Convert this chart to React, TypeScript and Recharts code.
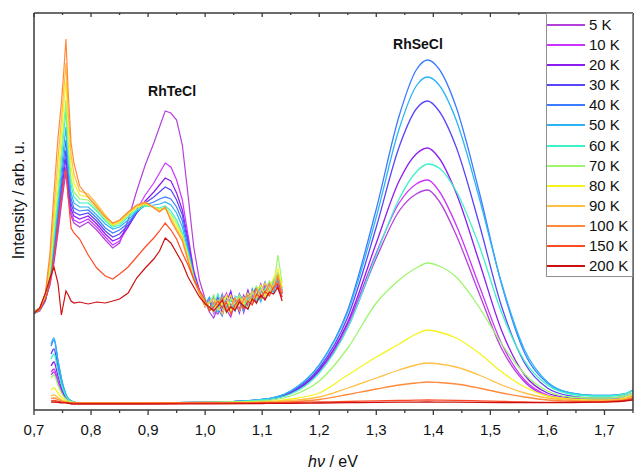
import { LineChart, Line, XAxis, YAxis, Legend, ReferenceDot, Label } from 'recharts';

const CHART_W = 635;
const CHART_H = 471;
const MARGIN_TOP = 13;
const X_AXIS_H = 61;
const Y_AXIS_W = 34;
const PLOT_TOP = MARGIN_TOP;
const PLOT_BOTTOM = CHART_H - X_AXIS_H;
const AXIS_COLOR = '#3a3a3a';
const FONT = 'Arial, "Liberation Sans", sans-serif';

const temperatures = ['5 K', '10 K', '20 K', '30 K', '40 K', '50 K', '60 K', '70 K', '80 K', '90 K', '100 K', '150 K', '200 K'];
const tempColors = ['#b440dc', '#cc33ff', '#8c1cf0', '#5a46fa', '#3c7cff', '#2db4f5', '#3df2c8', '#9ef56e', '#f4f41c', '#ffbf40', '#ff8a3c', '#ff4b24', '#cc1010'];

const energyTicks = [0.7, 0.75, 0.8, 0.85, 0.9, 0.95, 1.0, 1.05, 1.1, 1.15, 1.2, 1.25, 1.3, 1.35, 1.4, 1.45, 1.5, 1.55, 1.6, 1.65, 1.7, 1.75];

// photon energy grid (eV) of the RhTeCl spectra (offset, upper part)
const teEnergy = [
  0.700, 0.710, 0.720, 0.728, 0.735, 0.742, 0.748, 0.752, 0.756, 0.760,
  0.765, 0.770, 0.780, 0.795, 0.810, 0.825, 0.838, 0.850, 0.865, 0.880,
  0.895, 0.910, 0.920, 0.930, 0.940, 0.950, 0.960, 0.970, 0.980, 0.990,
  1.0000, 1.0075, 1.0150, 1.0225, 1.0300, 1.0375, 1.0450, 1.0525, 1.0600, 1.0675,
  1.0750, 1.0825, 1.0900, 1.0975, 1.1050, 1.1125, 1.1200, 1.1275, 1.1350,
];

const te5 = [
  9.2, 9.4, 10.4, 11.8, 14.0, 17.0, 19.8, 21.5, 23.0, 20.6,
  18.7, 18.0, 17.6, 18.1, 17.3, 16.3, 15.5, 16.0, 18.3, 21.2,
  23.8, 26.0, 27.6, 29.2, 29.0, 28.3, 25.8, 20.8, 15.6, 12.3,
  10.4, 9.1, 8.5, 9.6, 10.9, 9.3, 8.6, 10.1, 9.4, 10.8,
  9.7, 11.2, 10.0, 11.7, 10.6, 11.3, 12.0, 11.4, 10.6,
];
const te10 = [
  9.1, 9.4, 10.3, 12.0, 14.3, 17.4, 20.3, 22.1, 23.6, 21.0,
  19.0, 18.3, 18.0, 18.4, 17.6, 16.6, 15.8, 16.2, 17.6, 19.3,
  20.8, 22.0, 23.0, 24.0, 23.6, 22.3, 20.3, 16.8, 13.3, 11.3,
  9.8, 10.5, 9.2, 8.9, 10.2, 11.0, 9.5, 9.9, 10.9, 9.0,
  10.4, 10.6, 11.5, 10.3, 11.8, 10.9, 11.6, 12.6, 11.0,
];
const te20 = [
  9.0, 9.3, 10.4, 12.2, 14.6, 17.9, 20.9, 22.8, 24.5, 21.6,
  19.4, 18.7, 18.4, 18.7, 17.9, 16.9, 16.2, 16.5, 17.6, 19.0,
  20.2, 21.1, 21.8, 22.5, 22.2, 21.0, 19.3, 16.3, 13.0, 11.2,
  10.3, 9.4, 9.9, 10.6, 9.0, 10.1, 11.2, 9.3, 10.2, 9.8,
  11.3, 9.9, 10.8, 11.9, 10.4, 11.5, 12.3, 11.7, 11.5,
];
const te30 = [
  9.0, 9.2, 10.2, 12.3, 15.0, 18.5, 21.6, 23.5, 25.3, 22.3,
  19.9, 19.1, 18.8, 19.0, 18.2, 17.2, 16.6, 16.9, 17.8, 19.0,
  20.0, 20.6, 21.1, 21.6, 21.3, 20.3, 18.8, 16.0, 12.9, 11.1,
  9.6, 10.2, 9.0, 10.4, 9.7, 9.1, 10.6, 10.3, 9.0, 10.7,
  10.0, 10.9, 11.6, 10.5, 11.1, 12.0, 11.3, 12.4, 10.9,
];
const te40 = [
  8.9, 9.3, 10.5, 12.4, 15.4, 19.0, 22.3, 24.4, 26.3, 23.0,
  20.4, 19.5, 19.2, 19.3, 18.5, 17.5, 17.0, 17.3, 18.0, 19.1,
  19.8, 20.1, 20.4, 20.6, 20.4, 19.6, 18.2, 15.6, 12.8, 11.0,
  10.1, 9.2, 10.7, 9.4, 8.7, 10.5, 9.8, 9.2, 10.9, 10.2,
  9.4, 11.4, 10.2, 11.0, 12.1, 10.8, 11.7, 12.8, 11.2,
];
const te50 = [
  9.1, 9.4, 10.6, 12.6, 15.9, 19.7, 23.2, 25.5, 27.6, 23.8,
  21.0, 20.0, 19.6, 19.6, 18.8, 17.9, 17.4, 17.6, 18.3, 19.2,
  19.7, 19.8, 19.9, 20.1, 19.8, 19.0, 17.6, 15.3, 12.7, 11.0,
  9.9, 10.6, 9.5, 9.1, 10.8, 9.6, 10.3, 9.7, 10.1, 9.2,
  10.9, 10.4, 11.2, 10.1, 11.5, 11.9, 11.0, 12.3, 11.3,
];
const te60 = [
  9.2, 9.5, 10.7, 12.9, 16.6, 20.5, 24.3, 26.9, 29.3, 25.0,
  21.8, 20.6, 20.0, 20.0, 19.2, 18.2, 17.6, 17.8, 18.6, 19.3,
  19.7, 19.6, 19.5, 19.7, 19.2, 18.3, 17.0, 15.0, 12.6, 11.0,
  10.5, 9.3, 9.8, 10.9, 9.4, 9.9, 9.1, 10.7, 10.4, 9.6,
  10.5, 11.0, 10.3, 11.6, 10.9, 11.2, 12.2, 13.0, 11.5,
];
const te70 = [
  9.1, 9.4, 10.6, 13.2, 17.2, 21.3, 25.2, 27.8, 30.3, 25.8,
  22.4, 21.1, 20.4, 20.3, 19.4, 18.4, 17.7, 18.0, 18.8, 19.5,
  19.8, 19.6, 19.4, 19.5, 18.9, 18.0, 16.8, 14.8, 12.5, 11.0,
  9.7, 10.1, 10.8, 9.3, 10.0, 9.0, 10.4, 9.9, 10.8, 10.1,
  9.5, 11.1, 11.7, 10.4, 11.3, 12.2, 11.5, 14.8, 12.0,
];
const te80 = [
  9.0, 9.3, 10.8, 13.6, 18.2, 22.6, 26.8, 29.6, 32.2, 27.4,
  23.6, 22.0, 20.8, 20.6, 19.7, 18.6, 17.8, 18.1, 18.9, 19.6,
  19.9, 19.6, 19.3, 19.4, 18.6, 17.7, 16.6, 14.6, 12.4, 11.0,
  10.2, 9.6, 9.1, 10.3, 9.9, 10.8, 9.2, 9.6, 10.5, 9.9,
  11.0, 10.0, 11.1, 11.8, 10.6, 11.4, 12.5, 13.4, 11.6,
];
const te90 = [
  9.1, 9.5, 10.9, 14.2, 19.4, 24.4, 28.3, 31.2, 34.0, 29.0,
  24.8, 22.9, 21.2, 20.9, 19.9, 18.8, 17.9, 18.2, 19.0, 19.7,
  20.0, 19.6, 19.2, 19.5, 18.4, 17.4, 16.4, 14.4, 12.4, 11.0,
  9.6, 10.0, 10.4, 9.6, 8.9, 10.2, 10.8, 9.4, 9.9, 10.6,
  10.1, 11.2, 10.5, 11.2, 12.0, 10.9, 11.8, 12.9, 11.2,
];
const te100 = [
  9.0, 9.4, 11.0, 15.0, 21.0, 26.5, 30.0, 33.0, 36.4, 31.0,
  26.0, 24.0, 21.7, 20.6, 19.6, 18.6, 18.0, 18.3, 19.1, 19.8,
  20.1, 19.5, 19.1, 19.6, 18.2, 17.2, 16.2, 14.2, 12.3, 11.0,
  10.0, 9.4, 10.1, 9.8, 10.6, 9.3, 9.7, 10.5, 9.2, 10.3,
  10.8, 10.2, 11.4, 10.8, 11.0, 11.9, 11.3, 12.7, 11.0,
];
const te150 = [
  9.0, 9.3, 10.4, 12.0, 14.5, 17.8, 20.5, 22.2, 23.4, 20.5,
  17.5, 17.0, 16.4, 14.8, 13.5, 12.7, 12.4, 12.9, 13.6, 14.6,
  15.6, 16.5, 17.2, 18.0, 17.3, 16.4, 15.0, 13.8, 12.4, 11.3,
  10.3, 9.2, 9.6, 10.2, 9.5, 10.1, 8.9, 9.8, 10.4, 9.4,
  10.2, 9.8, 10.9, 10.5, 11.2, 10.7, 11.6, 12.0, 10.6,
];
const te200 = [
  9.0, 9.5, 11.0, 12.5, 13.6, 12.0, 8.8, 10.0, 11.2, 10.8,
  10.2, 10.0, 10.1, 9.9, 10.1, 10.0, 10.2, 10.4, 11.0, 12.5,
  13.5, 14.4, 15.2, 16.5, 16.0, 15.0, 14.0, 12.6, 11.6, 10.6,
  9.9, 9.6, 9.2, 9.7, 10.3, 9.1, 9.6, 9.3, 10.1, 9.7,
  9.4, 10.4, 10.0, 10.8, 10.3, 11.1, 10.9, 11.6, 10.2,
];

// photon energy grid (eV) of the RhSeCl spectra
const seEnergy = [
  0.730, 0.735, 0.742, 0.750, 0.758, 0.766, 0.780, 0.900, 1.000, 1.100,
  1.150, 1.200, 1.250, 1.300, 1.340, 1.370, 1.390, 1.410, 1.440, 1.480,
  1.520, 1.560, 1.600, 1.640, 1.680, 1.710, 1.735, 1.750,
];

const se5 = [
  2.8, 3.1, 2.0, 0.9, 0.3, 0.1, 0.0, 0.0, 0.05, 0.3,
  1.0, 3.1, 7.6, 14.5, 19.2, 20.9, 21.3, 20.2, 16.8, 11.0,
  5.4, 2.1, 0.7, 0.35, 0.3, 0.3, 0.4, 0.6,
];
const se10 = [
  3.1, 3.4, 2.2, 1.0, 0.35, 0.1, 0.0, 0.0, 0.05, 0.3,
  1.0, 3.2, 7.9, 15.0, 20.0, 21.9, 22.3, 21.2, 17.8, 11.8,
  5.9, 2.3, 0.8, 0.4, 0.3, 0.3, 0.45, 0.7,
];
const se20 = [
  3.7, 4.1, 2.7, 1.2, 0.4, 0.1, 0.0, 0.0, 0.05, 0.3,
  1.0, 3.3, 8.1, 16.0, 22.2, 24.9, 25.5, 24.5, 21.0, 14.2,
  7.2, 2.8, 1.0, 0.5, 0.35, 0.35, 0.5, 0.8,
];
const se30 = [
  4.9, 5.4, 3.6, 1.6, 0.5, 0.15, 0.0, 0.0, 0.05, 0.35,
  1.1, 3.5, 8.6, 17.6, 25.6, 29.4, 30.2, 29.2, 25.6, 18.0,
  9.6, 4.0, 1.5, 0.7, 0.5, 0.5, 0.7, 1.0,
];
const se40 = [
  5.7, 6.3, 4.2, 1.9, 0.6, 0.2, 0.0, 0.0, 0.05, 0.35,
  1.2, 3.8, 9.3, 19.4, 28.7, 33.3, 34.3, 33.4, 29.6, 21.2,
  11.8, 5.0, 2.0, 1.0, 0.75, 0.75, 0.9, 1.3,
];
const se50 = [
  5.9, 6.5, 4.3, 2.0, 0.65, 0.2, 0.0, 0.0, 0.05, 0.35,
  1.2, 3.8, 9.1, 18.6, 27.4, 31.7, 32.6, 31.8, 28.3, 20.6,
  11.9, 5.3, 2.1, 1.0, 0.75, 0.75, 0.9, 1.3,
];
const se60 = [
  4.4, 4.9, 3.2, 1.5, 0.5, 0.15, 0.0, 0.0, 0.05, 0.3,
  0.9, 3.0, 7.5, 14.8, 20.4, 23.1, 23.9, 23.5, 21.2, 15.8,
  9.0, 4.2, 1.8, 0.9, 0.7, 0.7, 0.9, 1.2,
];
const se70 = [
  2.5, 2.8, 1.8, 0.8, 0.3, 0.1, 0.0, 0.0, 0.05, 0.2,
  0.7, 2.2, 5.5, 10.0, 12.3, 13.5, 14.0, 13.7, 12.6, 9.6,
  5.9, 2.9, 1.2, 0.6, 0.5, 0.5, 0.7, 1.0,
];
const se80 = [
  1.35, 1.5, 1.0, 0.45, 0.15, 0.05, 0.0, 0.0, 0.05, 0.1,
  0.4, 1.0, 2.8, 4.6, 5.9, 6.9, 7.3, 7.1, 6.5, 5.0,
  3.1, 1.6, 0.7, 0.4, 0.3, 0.3, 0.5, 0.8,
];
const se90 = [
  0.7, 0.8, 0.55, 0.25, 0.1, 0.0, 0.0, 0.0, 0.03, 0.1,
  0.25, 0.6, 1.5, 2.5, 3.3, 3.8, 4.0, 3.9, 3.6, 2.8,
  1.8, 1.0, 0.5, 0.3, 0.2, 0.3, 0.4, 0.6,
];
const se100 = [
  0.45, 0.5, 0.35, 0.15, 0.05, 0.0, 0.0, 0.0, 0.02, 0.05,
  0.12, 0.35, 0.85, 1.4, 1.8, 2.0, 2.1, 2.05, 1.9, 1.5,
  1.0, 0.6, 0.3, 0.2, 0.15, 0.2, 0.3, 0.5,
];
const se150 = [
  0.22, 0.25, 0.17, 0.08, 0.03, 0.0, -0.05, -0.05, 0.0, 0.02,
  0.05, 0.1, 0.15, 0.22, 0.26, 0.28, 0.3, 0.29, 0.27, 0.22,
  0.16, 0.1, 0.07, 0.08, 0.1, 0.15, 0.25, 0.4,
];
const se200 = [
  0.08, 0.1, 0.06, 0.02, 0.0, -0.1, -0.1, -0.1, -0.08, -0.05,
  -0.03, 0.0, 0.03, 0.06, 0.08, 0.09, 0.1, 0.09, 0.08, 0.06,
  0.04, 0.03, 0.03, 0.05, 0.08, 0.12, 0.2, 0.3,
];

const teSpectra = [te5, te10, te20, te30, te40, te50, te60, te70, te80, te90, te100, te150, te200];
const seSpectra = [se5, se10, se20, se30, se40, se50, se60, se70, se80, se90, se100, se150, se200];

const toPoints = (energy: number[], values: number[]) =>
  energy.map((e, i) => ({ e, v: values[i] }));

const isMajor = (v: number) => Math.abs(v * 10 - Math.round(v * 10)) < 1e-6;
const fmt = (v: number) => v.toFixed(1).replace('.', ',');

function BottomTick(props: any) {
  const { x, payload } = props;
  const major = isMajor(payload.value);
  return (
    <g>
      <line x1={x} x2={x} y1={PLOT_BOTTOM} y2={PLOT_BOTTOM + (major ? 5 : 3)} stroke={AXIS_COLOR} strokeWidth={1.3} />
      {major && (
        <text x={x} y={PLOT_BOTTOM + 24.5} textAnchor="middle" fontSize={15} fontFamily={FONT} fill="#111">
          {fmt(payload.value)}
        </text>
      )}
    </g>
  );
}

function TopTick(props: any) {
  const { x, payload } = props;
  const major = isMajor(payload.value);
  return (
    <line x1={x} x2={x} y1={PLOT_TOP} y2={PLOT_TOP + (major ? 4 : 2)} stroke={AXIS_COLOR} strokeWidth={1.3} />
  );
}

function LegendBox() {
  return (
    <div
      style={{
        width: 87,
        height: 264,
        boxSizing: 'border-box',
        border: '1px solid #8f8f8f',
        background: '#fff',
        paddingTop: 1,
        fontFamily: FONT,
      }}
    >
      {temperatures.map((t, i) => (
        <div key={t} style={{ display: 'flex', alignItems: 'center', height: 20.08 }}>
          <span style={{ display: 'inline-block', width: 38, height: 0, borderTop: `2px solid ${tempColors[i]}` }} />
          <span style={{ marginLeft: 4, fontSize: 15, color: '#111', lineHeight: '20px' }}>{t}</span>
        </div>
      ))}
    </div>
  );
}

export default function App() {
  return (
    <div style={{ position: 'absolute', left: 0, top: 0, background: '#fff' }}>
      <LineChart width={CHART_W} height={CHART_H} margin={{ top: MARGIN_TOP, right: 1, bottom: 0, left: 0 }}>
        <XAxis
          dataKey="e"
          type="number"
          domain={[0.7, 1.75]}
          allowDataOverflow
          ticks={energyTicks}
          interval={0}
          height={X_AXIS_H}
          tick={<BottomTick />}
          tickLine={false}
          axisLine={{ stroke: AXIS_COLOR, strokeWidth: 1.5 }}
        >
          <Label
            content={() => (
              <text x={333} y={467} textAnchor="middle" fontSize={16} fontFamily={FONT} fill="#111">
                <tspan fontStyle="italic">hν</tspan> / eV
              </text>
            )}
          />
        </XAxis>
        <XAxis
          xAxisId="top"
          orientation="top"
          dataKey="e"
          type="number"
          domain={[0.7, 1.75]}
          allowDataOverflow
          ticks={energyTicks}
          interval={0}
          mirror
          tick={<TopTick />}
          tickLine={false}
          axisLine={{ stroke: AXIS_COLOR, strokeWidth: 1.5 }}
        />
        <YAxis
          type="number"
          domain={[-0.7, 39]}
          allowDataOverflow
          width={Y_AXIS_W}
          tick={false}
          tickLine={false}
          axisLine={{ stroke: AXIS_COLOR, strokeWidth: 1.5 }}
        >
          <Label
            content={() => (
              <text
                x={18}
                y={200}
                transform="rotate(-90 18 200)"
                textAnchor="middle"
                dominantBaseline="central"
                fontSize={16}
                fontFamily={FONT}
                fill="#111"
              >
                Intensity / arb. u.
              </text>
            )}
          />
        </YAxis>
        <YAxis
          yAxisId="right"
          orientation="right"
          type="number"
          domain={[0, 1]}
          width={1}
          tick={false}
          tickLine={false}
          axisLine={{ stroke: AXIS_COLOR, strokeWidth: 1.5 }}
        />

        {teSpectra.map((values, i) => (
          <Line
            key={`te-${temperatures[i]}`}
            data={toPoints(teEnergy, values)}
            dataKey="v"
            type="linear"
            stroke={tempColors[i]}
            strokeWidth={1.2}
            dot={false}
            legendType="none"
            isAnimationActive={false}
          />
        ))}
        {seSpectra.map((values, i) => (
          <Line
            key={`se-${temperatures[i]}`}
            name={temperatures[i]}
            data={toPoints(seEnergy, values)}
            dataKey="v"
            type="monotone"
            stroke={tempColors[i]}
            strokeWidth={1.3}
            dot={false}
            isAnimationActive={false}
          />
        ))}

        <ReferenceDot x={0.942} y={31.2} r={0} fill="none" stroke="none">
          <Label value="RhTeCl" position="center" fontSize={14} fontWeight="bold" fontFamily={FONT} fill="#111" />
        </ReferenceDot>
        <ReferenceDot x={1.373} y={35.9} r={0} fill="none" stroke="none">
          <Label value="RhSeCl" position="center" fontSize={14} fontWeight="bold" fontFamily={FONT} fill="#111" />
        </ReferenceDot>

        <Legend
          layout="vertical"
          align="center"
          verticalAlign="middle"
          wrapperStyle={{ left: 546, top: MARGIN_TOP, width: 87, height: 264 }}
          content={() => <LegendBox />}
        />
      </LineChart>
    </div>
  );
}
